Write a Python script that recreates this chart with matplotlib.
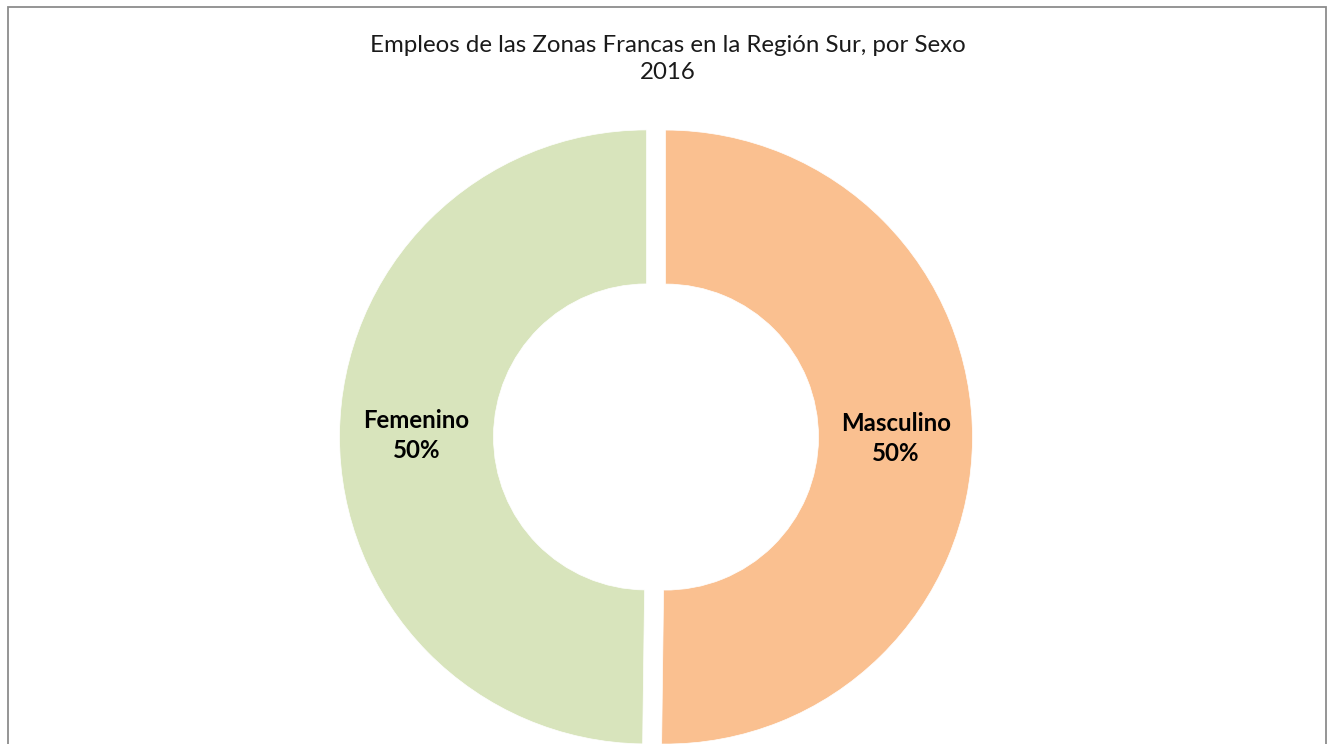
import matplotlib
matplotlib.use("Agg")
from matplotlib import pyplot as plt
from matplotlib.patches import Rectangle

# data
sexos = ["Masculino", "Femenino"]
valores = [50.2, 49.8]
colores = ["#FAC090", "#D8E4BC"]

titulo = "Empleos de las Zonas Francas en la Región Sur, por Sexo\n2016"

W, H = 1327, 744
fig = plt.figure(figsize=(W / 100, H / 100), dpi=100)
fig.patch.set_facecolor("white")

# axes in pixel units so the donut sits where it does in the original
ax = fig.add_axes([0, 0, 1, 1])

names = iter(sexos)


def etiqueta(pct):
    return "%s\n%.0f%%" % (next(names), pct)


wedges, texts, autotexts = ax.pie(
    valores,
    colors=colores,
    startangle=90,
    counterclock=False,
    radius=307,
    center=(656, H - 437),
    explode=[9.5, 9.5],  # data units (pixels here)
    autopct=etiqueta,
    pctdistance=0.75,
    wedgeprops=dict(width=154, edgecolor="white", linewidth=0.5),
    textprops=dict(fontsize=17.3, fontweight="bold", family="Lato",
                   color="black", linespacing=1.4),
)
ax.set_xlim(0, W)
ax.set_ylim(0, H)
ax.set_aspect("equal")
ax.axis("off")

fig.text(0.503, 1 - 59 / H, titulo, ha="center", va="center", fontsize=17.3,
         family="Lato", color="#1a1a1a", linespacing=1.3)

# chart border (Excel style)
borde = Rectangle((8 / W, -0.05), (1326 - 8) / W, 1.05 - 7 / H,
                  transform=fig.transFigure, fill=False,
                  edgecolor="#8c8c8c", linewidth=1.3, clip_on=False)
fig.patches.append(borde)

fig.savefig("out.png", dpi=100)
